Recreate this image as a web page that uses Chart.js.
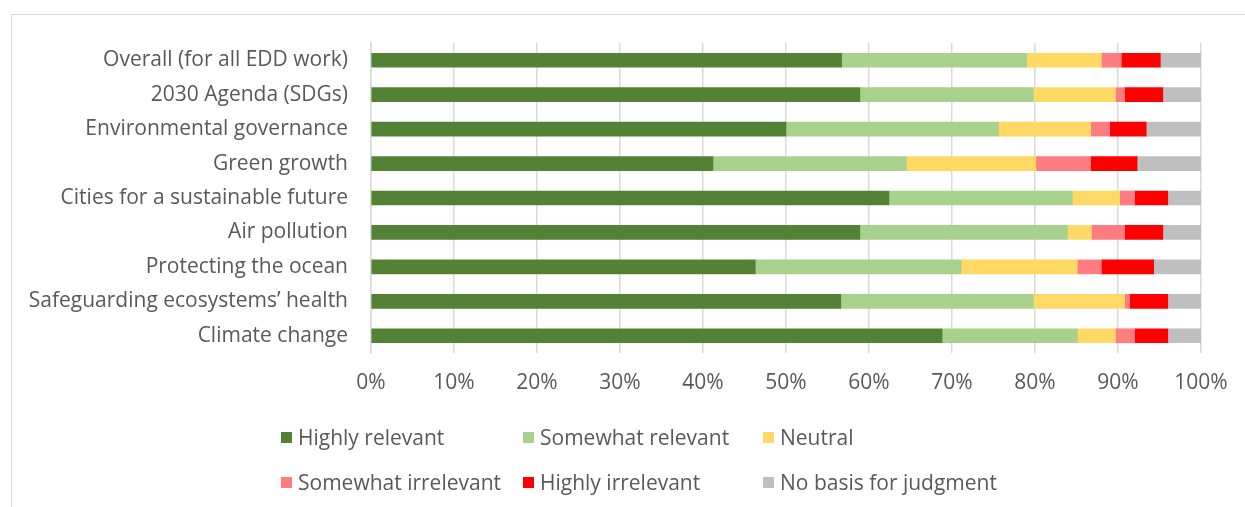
<!DOCTYPE html>
<html>
<head>
<meta charset="utf-8">
<script src="https://cdn.jsdelivr.net/npm/chart.js@4.4.1/dist/chart.umd.min.js"></script>
<style>
  body { margin: 0; background: #fff; }
  #wrap { position: relative; width: 1245px; height: 507px; overflow: hidden; }
  #frame { position: absolute; left: 11px; top: 14px; width: 1240px; height: 500px; border: 1px solid #d9d9d9; }
  #chart { position: absolute; left: 0; top: 0; }
  .item { position: absolute; font-family: "Open Sans", sans-serif; font-size: 21px; color: #595959; white-space: nowrap; line-height: 24px; }
  .item span { display: inline-block; width: 11px; height: 11px; margin-right: 6px; vertical-align: 2px; }
</style>
</head>
<body>
<div id="wrap">
  <div id="frame"></div>
  <canvas id="chart" width="1245" height="507"></canvas>
  <div id="legend"></div>
</div>
<script>
const categories = [
  "Overall (for all EDD work)",
  "2030 Agenda (SDGs)",
  "Environmental governance",
  "Green growth",
  "Cities for a sustainable future",
  "Air pollution",
  "Protecting the ocean",
  "Safeguarding ecosystems\u2019 health",
  "Climate change"
];

const seriesNames = ["Highly relevant", "Somewhat relevant", "Neutral", "Somewhat irrelevant", "Highly irrelevant", "No basis for judgment"];
const seriesColors = ["#548235", "#a9d18e", "#ffd966", "#ff7c80", "#ff0000", "#bfbfbf"];

const highlyRelevant = [56.7, 58.9, 50.0, 41.2, 62.4, 58.9, 46.3, 56.6, 68.8];
const somewhatRelevant = [22.3, 20.9, 25.6, 23.3, 22.1, 25.0, 24.8, 23.2, 16.3];
const neutral = [9.0, 9.9, 11.1, 15.6, 5.7, 2.9, 14.0, 11.0, 4.6];
const somewhatIrrelevant = [2.4, 1.1, 2.3, 6.6, 1.8, 4.0, 2.9, 0.6, 2.3];
const highlyIrrelevant = [4.7, 4.6, 4.4, 5.6, 4.0, 4.6, 6.3, 4.6, 4.0];
const noBasis = [4.9, 4.6, 6.6, 7.7, 4.0, 4.6, 5.7, 4.0, 4.0];

const xTicks = [0, 10, 20, 30, 40, 50, 60, 70, 80, 90, 100];

const allSeries = [highlyRelevant, somewhatRelevant, neutral, somewhatIrrelevant, highlyIrrelevant, noBasis];

const font = { family: "'Open Sans', sans-serif", size: 21 };

const ctx = document.getElementById("chart").getContext("2d");
new Chart(ctx, {
  type: "bar",
  data: {
    labels: categories,
    datasets: allSeries.map(function (vals, i) {
      return {
        label: seriesNames[i],
        data: vals,
        backgroundColor: seriesColors[i],
        borderWidth: 0,
        barThickness: 14
      };
    })
  },
  options: {
    indexAxis: "y",
    responsive: false,
    animation: false,
    layout: { padding: { left: 20, right: 44, top: 43, bottom: 94 } },
    plugins: { legend: { display: false }, tooltip: { enabled: false } },
    scales: {
      x: {
        stacked: true,
        min: 0,
        max: 100,
        afterBuildTicks: function (scale) {
          scale.ticks = xTicks.map(function (v) { return { value: v }; });
        },
        afterFit: function (scale) { scale.height = 60; },
        ticks: {
          callback: function (v) { return v + "%"; },
          color: "#595959",
          font: font,
          padding: 17,
          maxRotation: 0
        },
        grid: { color: "#d9d9d9", lineWidth: 1.5, drawTicks: false },
        border: { display: false }
      },
      y: {
        stacked: true,
        afterFit: function (scale) { scale.width = 351; },
        ticks: { color: "#595959", font: font, padding: 23 },
        grid: { display: false, drawTicks: false },
        border: { display: true, color: "#d9d9d9", width: 1.5 }
      }
    }
  }
});

// legend laid out in a 3-column grid like the original
const legendCols = [281, 523, 763];
const legendRows = [425, 470];
const legend = document.getElementById("legend");
seriesNames.forEach(function (name, i) {
  const d = document.createElement("div");
  d.className = "item";
  d.style.left = legendCols[i % 3] + "px";
  d.style.top = legendRows[Math.floor(i / 3)] + "px";
  d.innerHTML = '<span style="background:' + seriesColors[i] + '"></span>' + name;
  legend.appendChild(d);
});
</script>
</body>
</html>
